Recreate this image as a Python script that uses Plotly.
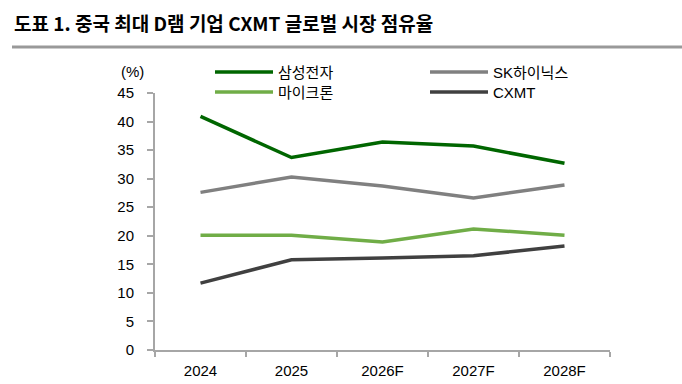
import plotly.graph_objects as go

categories = ["2024", "2025", "2026F", "2027F", "2028F"]
samsung = [40.9, 33.7, 36.4, 35.7, 32.7]
sk_hynix = [27.6, 30.3, 28.7, 26.6, 28.9]
micron = [20.1, 20.1, 18.9, 21.2, 20.1]
cxmt = [11.7, 15.8, 16.1, 16.5, 18.2]
y_ticks = [0, 5, 10, 15, 20, 25, 30, 35, 40, 45]

series = [
    ("삼성전자", samsung, "#006600"),
    ("SK하이닉스", sk_hynix, "#808080"),
    ("마이크론", micron, "#70AD47"),
    ("CXMT", cxmt, "#404040"),
]

W, H = 682, 384
L, R, T, B = 155, 72, 93, 34

fig = go.Figure()
for name, vals, col in series:
    fig.add_trace(go.Scatter(x=categories, y=vals, mode="lines", name=name,
                             line=dict(color=col, width=3.5), showlegend=False))

def px(x):
    return (x - L) / (W - L - R)

def py(y):
    return (H - B - y) / (H - T - B)

legend_pos = [(215, 72), (430, 72), (215, 92), (430, 92)]
shapes = []
annotations = []
for (name, vals, col), (lx, ly) in zip(series, legend_pos):
    shapes.append(dict(type="line", xref="paper", yref="paper",
                       x0=px(lx), x1=px(lx + 58), y0=py(ly), y1=py(ly),
                       line=dict(color=col, width=3.5)))
    annotations.append(dict(text=name, xref="paper", yref="paper",
                            x=px(lx + 61), y=py(ly), xanchor="left", yanchor="middle",
                            showarrow=False,
                            font=dict(family="Liberation Sans, Noto Sans CJK KR", size=15, color="#000")))

# title rule
shapes.append(dict(type="line", xref="paper", yref="paper",
                   x0=px(12), x1=px(682), y0=py(47), y1=py(47),
                   line=dict(color="#999999", width=3)))
annotations.append(dict(text="<b>도표 1. 중국 최대 D램 기업 CXMT 글로벌 시장 점유율</b>",
                        xref="paper", yref="paper", x=px(12), y=py(22),
                        xanchor="left", yanchor="middle", showarrow=False,
                        font=dict(family="Noto Sans CJK KR", size=19, color="#000")))
annotations.append(dict(text="(%)", xref="paper", yref="paper", x=px(146), y=py(71),
                        xanchor="right", yanchor="middle", showarrow=False,
                        font=dict(family="Liberation Sans", size=15, color="#000")))

fig.update_layout(
    width=W, height=H,
    margin=dict(l=L, r=R, t=T, b=B, autoexpand=False),
    paper_bgcolor="white", plot_bgcolor="white",
    font=dict(family="Liberation Sans", size=14, color="#000"),
    shapes=shapes, annotations=annotations,
    xaxis=dict(type="category", range=[-0.5, 4.5], showgrid=False, automargin=False,
               showline=True, linecolor="#A6A6A6", linewidth=2,
               ticks="outside", tickson="boundaries", ticklen=5, tickcolor="#A6A6A6",
               tickwidth=2, tickfont=dict(size=15), ticklabelstandoff=6),
    yaxis=dict(range=[0, 45], tickvals=y_ticks, showgrid=False, zeroline=False,
               automargin=False,
               showline=True, linecolor="#A6A6A6", linewidth=2,
               ticks="outside", ticklen=6, tickcolor="#A6A6A6", tickwidth=2,
               tickfont=dict(size=15), ticklabelstandoff=10),
)

fig.write_html("out.html")
